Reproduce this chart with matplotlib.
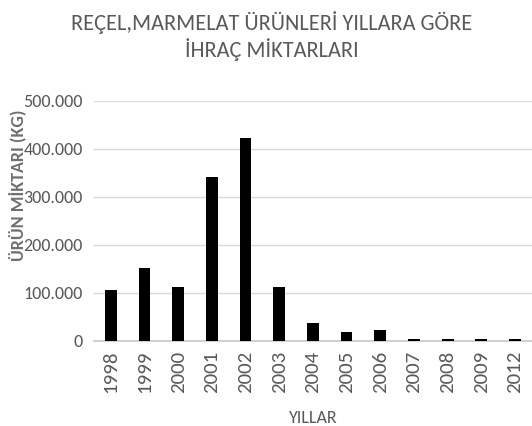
import matplotlib
matplotlib.use('Agg')
import matplotlib.pyplot as plt
from matplotlib.ticker import FuncFormatter

years = ['1998', '1999', '2000', '2001', '2002', '2003', '2004',
         '2005', '2006', '2007', '2008', '2009', '2012']
amounts = [106000, 152000, 112000, 342000, 423000, 112000, 37000,
           19000, 23000, 3000, 3000, 3000, 3000]

gray = '#595959'
font = ['Carlito', 'DejaVu Sans']

fig = plt.figure(figsize=(5.32, 4.26), dpi=100)
ax = fig.add_axes([0.1767, 0.2, 0.823, 0.563])

x = range(len(years))
ax.bar(x, amounts, width=0.35, color='black', zorder=3)

ax.set_xlim(-0.5, len(years) - 0.5)
ax.set_ylim(0, 500000)
ax.set_yticks(range(0, 500001, 100000))
ax.yaxis.set_major_formatter(FuncFormatter(lambda v, p: f'{int(v):,}'.replace(',', '.')))
ax.set_xticks(list(x))
ax.set_xticklabels(years, rotation=90, fontsize=15, color=gray, family=font)
for lab in ax.get_yticklabels():
    lab.set_family(font)
    lab.set_fontsize(13)
    lab.set_color(gray)

ax.grid(axis='y', color='#d9d9d9', linewidth=1, zorder=0)
for s in ['top', 'right', 'left']:
    ax.spines[s].set_visible(False)
ax.spines['bottom'].set_color('#c8c8c8')
ax.spines['bottom'].set_linewidth(1.2)
ax.tick_params(axis='both', length=0)
ax.tick_params(axis='y', pad=8)
ax.tick_params(axis='x', pad=7)

ax.set_ylabel('ÜRÜN MİKTARI (KG)', fontsize=13, color='#6f6f6f', fontweight='bold', family=font)
ax.yaxis.set_label_coords(-0.155, 0.65)
ax.set_xlabel('YILLAR', fontsize=13, color=gray, family=font)
ax.xaxis.set_label_coords(0.5, -0.29)

fig.text(0.511, 0.948, 'REÇEL,MARMELAT ÜRÜNLERİ YILLARA GÖRE', ha='center', va='center',
         fontsize=16, color=gray, family=font)
fig.text(0.511, 0.883, 'İHRAÇ MİKTARLARI', ha='center', va='center',
         fontsize=16, color=gray, family=font)

fig.savefig('out.png', dpi=100)
